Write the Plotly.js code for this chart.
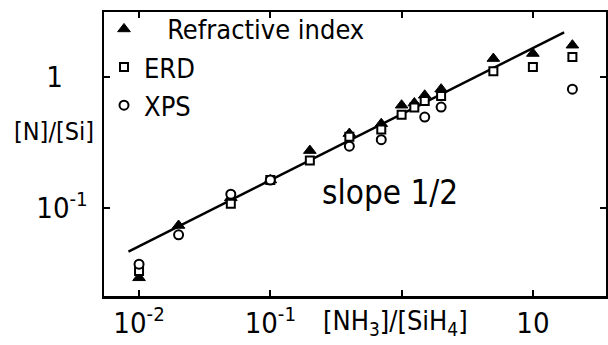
<!DOCTYPE html>
<html>
<head>
<meta charset="utf-8">
<script src="https://cdn.plot.ly/plotly-3.0.1.min.js"></script>
<style>html,body{margin:0;padding:0;background:#fff;}#chart{width:608px;height:345px;}</style>
</head>
<body>
<div id="chart"></div>
<script>
// [NH3]/[SiH4] ratios and [N]/[Si] values
const refrX = [0.01, 0.02, 0.05, 0.1, 0.2, 0.4, 0.7, 1.0, 1.25, 1.5, 2.0, 5, 10, 20];
const refrY = [0.029, 0.073, 0.119, 0.163, 0.274, 0.37, 0.44, 0.61, 0.634, 0.727, 0.81, 1.39, 1.52, 1.76];
const erdX = [0.01, 0.05, 0.1, 0.2, 0.4, 0.7, 1.0, 1.25, 1.5, 2.0, 5, 10, 20];
const erdY = [0.0327, 0.107, 0.163, 0.23, 0.35, 0.398, 0.516, 0.585, 0.657, 0.718, 1.11, 1.2, 1.43];
const xpsX = [0.01, 0.02, 0.05, 0.1, 0.4, 0.7, 1.5, 2.0, 20];
const xpsY = [0.0369, 0.062, 0.127, 0.163, 0.296, 0.332, 0.495, 0.591, 0.81];
// slope-1/2 guide line end points
const lineX = [0.0083, 17.3];
const lineY = [0.046, 2.21];
// tick labels
const xTickVals = [0.01, 0.1, 1, 10];
const xTickText = ['10<sup>-2</sup>', '10<sup>-1</sup>', '', '10'];
const yTickVals = [0.1, 1];
const yTickText = ['10<sup>-1</sup>', '1\u00a0\u00a0\u00a0'];

const FONT = 'DejaVu Sans Condensed, Liberation Sans Narrow, sans-serif';

const traces = [
  {x: lineX, y: lineY, mode: 'lines', line: {color: '#000', width: 2.5}, showlegend: false, hoverinfo: 'skip'},
  {x: refrX, y: refrY, mode: 'markers', name: '\u00a0\u00a0\u00a0Refractive index',
   marker: {symbol: 'triangle-up', size: 11, color: '#000', line: {color: '#000', width: 1}}},
  {x: erdX, y: erdY, mode: 'markers', name: 'ERD',
   marker: {symbol: 'square', size: 8, color: '#fff', line: {color: '#000', width: 2}}},
  {x: xpsX, y: xpsY, mode: 'markers', name: 'XPS',
   marker: {symbol: 'circle', size: 9, color: '#fff', line: {color: '#000', width: 2}}}
];

const axisCommon = {
  type: 'log', showgrid: false, zeroline: false,
  showline: true, linecolor: '#000', linewidth: 2.5, mirror: 'ticks',
  ticks: 'inside', ticklen: 6, tickwidth: 2, tickcolor: '#000',
  tickmode: 'array', tickfont: {family: FONT, size: 29, color: '#000'}
};

const layout = {
  width: 608, height: 345,
  margin: {l: 104, r: 2, t: 12, b: 49},
  paper_bgcolor: '#fff', plot_bgcolor: '#fff',
  font: {family: FONT, color: '#000'},
  xaxis: Object.assign({}, axisCommon, {range: [-2.267, 1.557], tickvals: xTickVals, ticktext: xTickText, ticklabelstandoff: 0}),
  yaxis: Object.assign({}, axisCommon, {range: [-1.677, 0.5], tickvals: yTickVals, ticktext: yTickText, ticklabelstandoff: 8}),
  showlegend: true,
  legend: {x: 0.0, y: 1.025, xanchor: 'left', yanchor: 'top', bgcolor: 'rgba(0,0,0,0)',
           font: {family: FONT, size: 27, color: '#000'}, valign: 'bottom', tracegroupgap: 0},
  annotations: [
    {xref: 'paper', yref: 'paper', x: 0.430, y: 0.366, xanchor: 'left', yanchor: 'middle',
     text: 'slope 1/2', showarrow: false, font: {family: FONT, size: 33, color: '#000'}},
    {xref: 'paper', yref: 'paper', x: (395 - 104) / 502, y: -0.095, xanchor: 'center', yanchor: 'middle',
     text: '[NH<sub>3</sub>]/[SiH<sub>4</sub>]', showarrow: false, font: {family: FONT, size: 27, color: '#000'}},
    {xref: 'paper', yref: 'paper', x: (54 - 104) / 502, y: (296 - 131) / 284, xanchor: 'center', yanchor: 'middle',
     text: '[N]/[Si]', showarrow: false, font: {family: FONT, size: 25, color: '#000'}}
  ]
};

Plotly.newPlot('chart', traces, layout, {displayModeBar: false, staticPlot: true});
</script>
</body>
</html>
